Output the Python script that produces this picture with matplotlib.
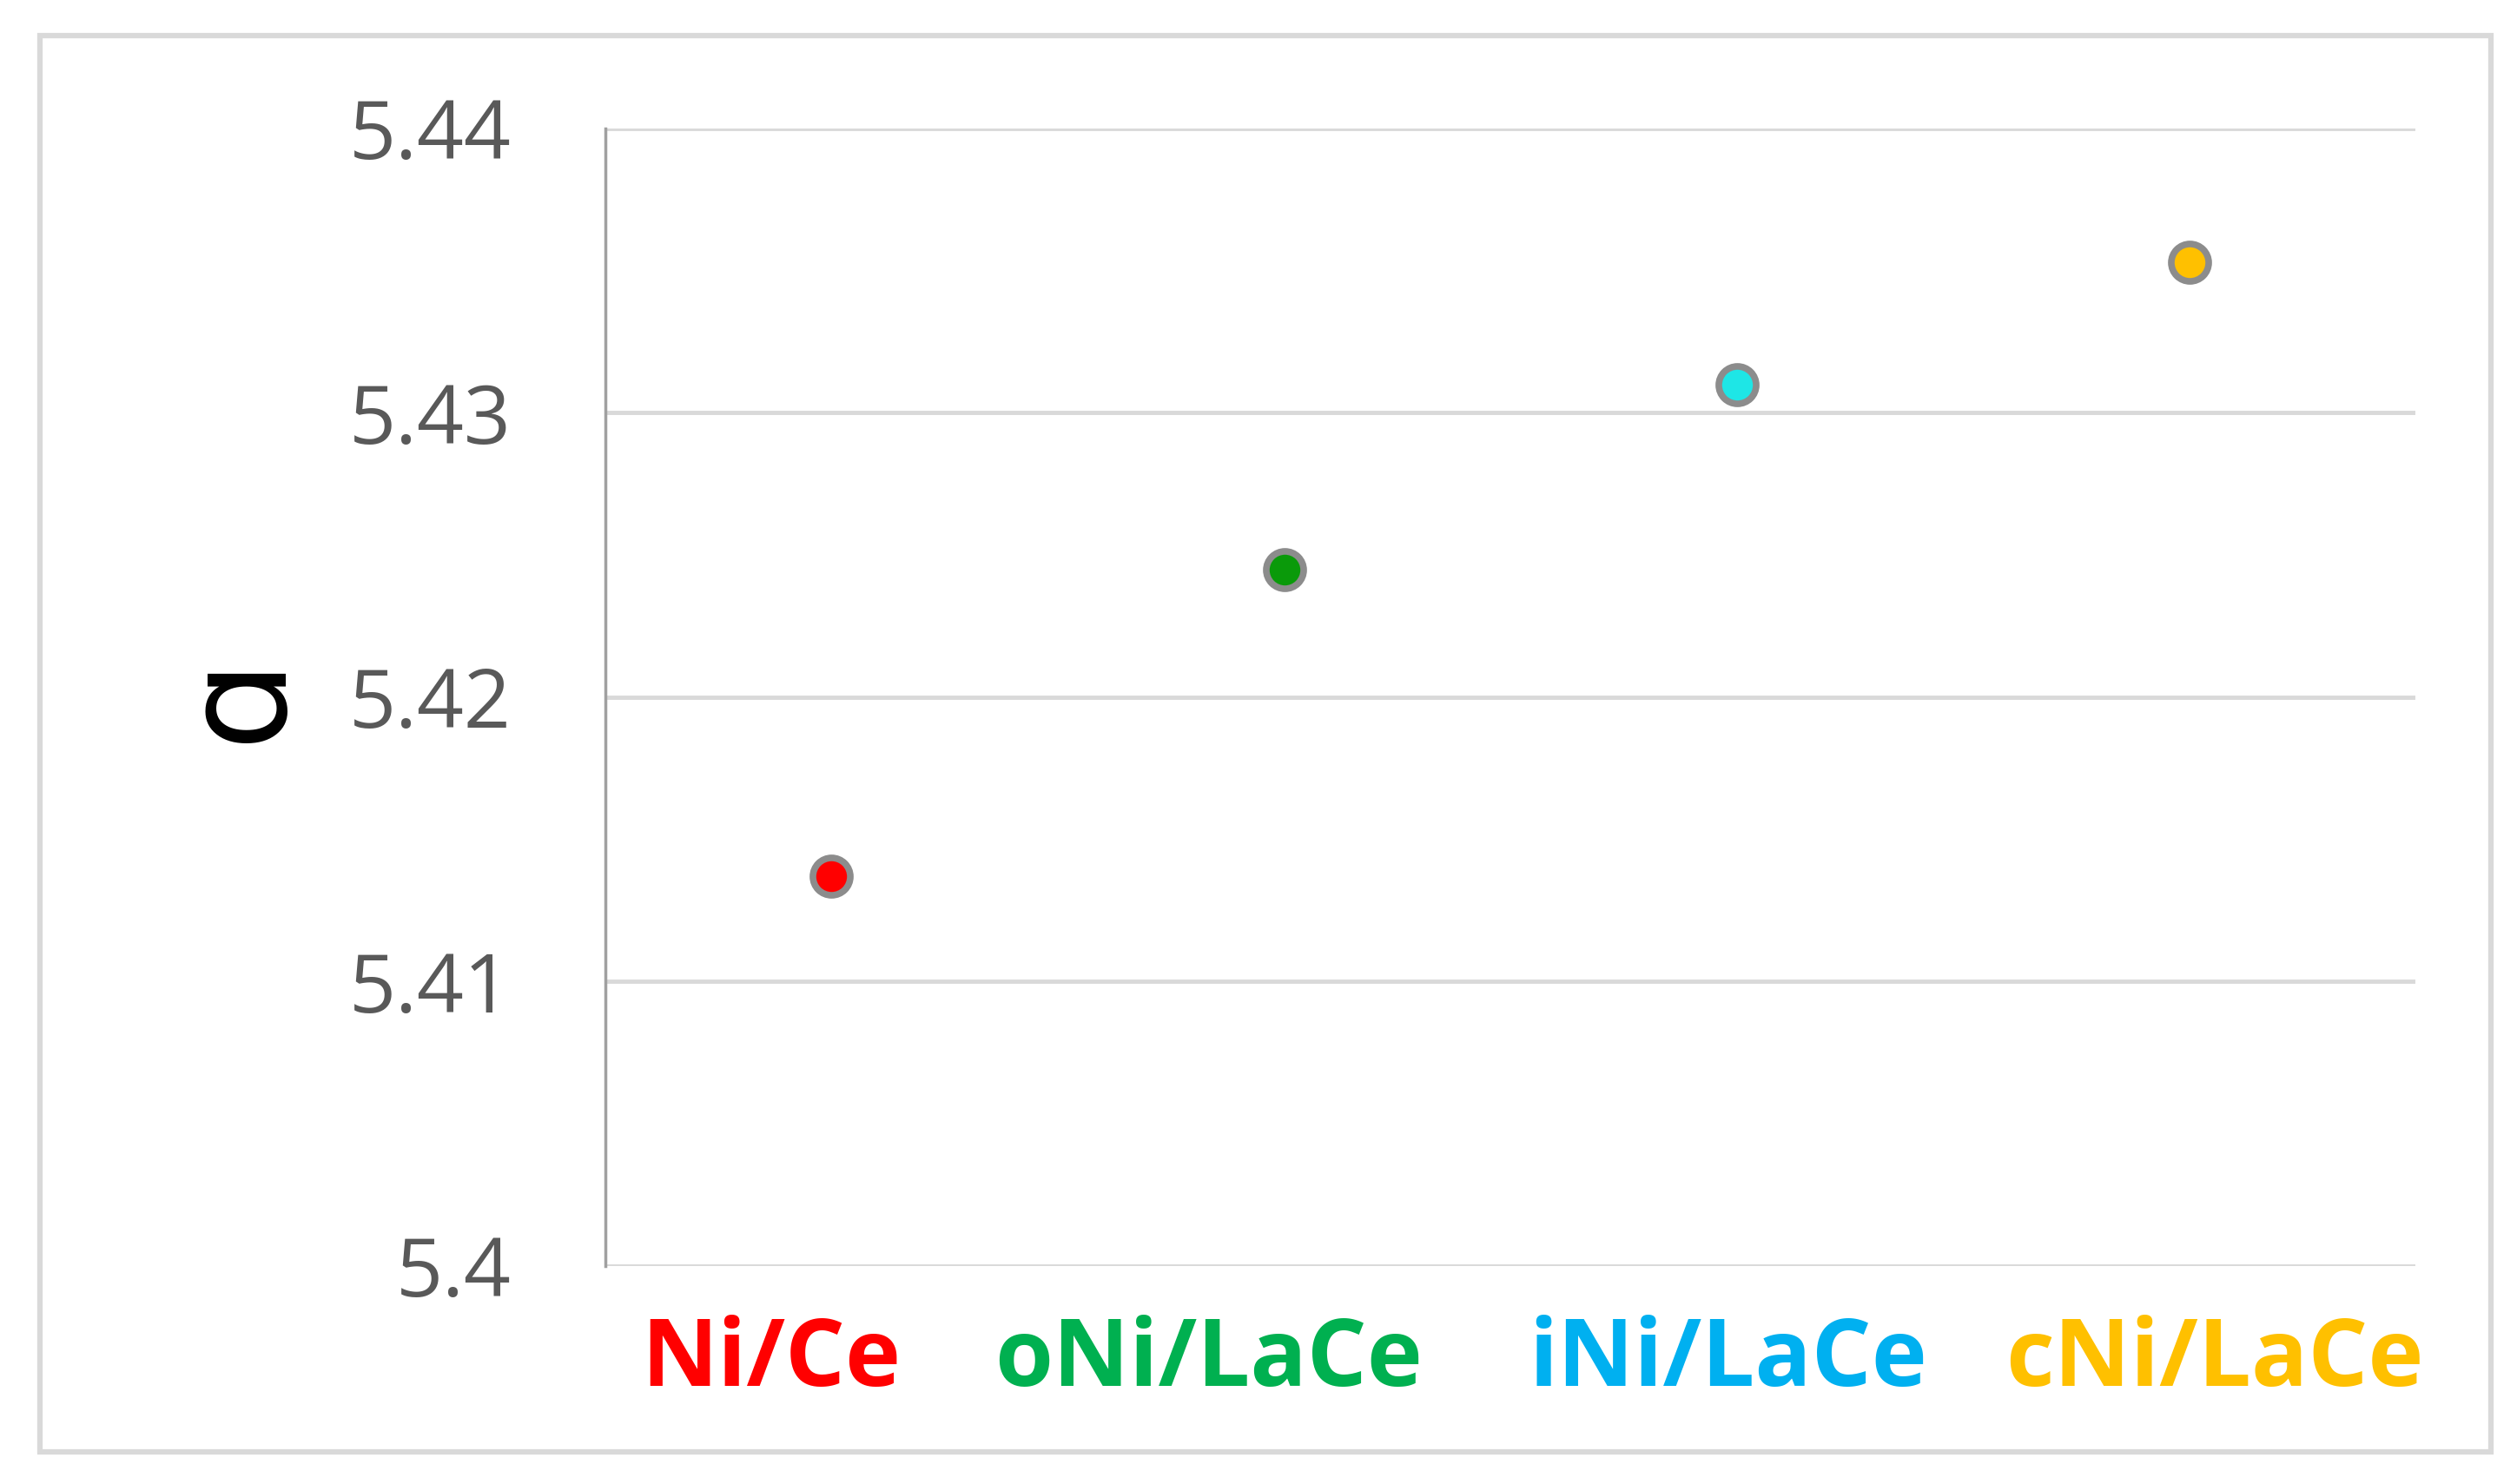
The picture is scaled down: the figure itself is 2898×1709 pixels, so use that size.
import matplotlib.pyplot as plt
from matplotlib.patches import Rectangle
from matplotlib.transforms import ScaledTranslation

# data
samples = ['Ni/Ce', 'oNi/LaCe', 'iNi/LaCe', 'cNi/LaCe']
lattice_a = [5.4137, 5.4245, 5.4310, 5.4353]
yticks = [5.40, 5.41, 5.42, 5.43, 5.44]
ytick_labels = ['5.4', '5.41', '5.42', '5.43', '5.44']

point_colors = ['#ff0000', '#0a9a0a', '#1ee6e6', '#ffc000']
label_colors = ['#ff0000', '#00b050', '#00b0f0', '#ffc000']
label_shift_pt = [-50, -63, -7, 21]   # labels are not quite centred in the original

fig = plt.figure(figsize=(28.98, 17.09), dpi=100)
fig.patch.set_facecolor('white')

# light grey frame around the whole chart
fig.patches.append(Rectangle((0.0159, 0.0217), 0.9738, 0.9543, transform=fig.transFigure,
                             fill=False, edgecolor='#d9d9d9', linewidth=4.5, zorder=0))

ax = fig.add_axes([0.2405, 0.1469, 0.7192, 0.7665])

x = list(range(len(samples)))
for xi, yi, c in zip(x, lattice_a, point_colors):
    ax.plot(xi, yi, 'o', color=c, markersize=31, markeredgecolor='#8c8c8c',
            markeredgewidth=5.5, zorder=5, clip_on=False)

ax.set_xlim(-0.5, len(samples) - 0.5)
ax.set_ylim(5.40, 5.44)

ax.set_yticks(yticks)
ax.set_yticklabels(ytick_labels, fontfamily='Open Sans', fontsize=68, color='#595959')
ax.tick_params(axis='y', length=0, pad=78)

ax.set_xticks(x)
ax.set_xticklabels(samples, fontfamily='Open Sans', fontweight='bold', fontsize=78)
ax.tick_params(axis='x', length=0, pad=40)
for lbl, c, dx in zip(ax.get_xticklabels(), label_colors, label_shift_pt):
    lbl.set_color(c)
    lbl.set_transform(lbl.get_transform() + ScaledTranslation(dx / 72, 0, fig.dpi_scale_trans))

ax.grid(axis='y', color='#d9d9d9', linewidth=3.5)
ax.set_axisbelow(True)
for side in ['top', 'right', 'bottom']:
    ax.spines[side].set_visible(False)
ax.spines['left'].set_color('#a0a0a0')
ax.spines['left'].set_linewidth(2.5)

ax.set_ylabel('\u0251', fontsize=118, rotation=90, va='center')
ax.yaxis.set_label_coords(-0.202, 0.5)

fig.savefig('out.png', dpi=100)
